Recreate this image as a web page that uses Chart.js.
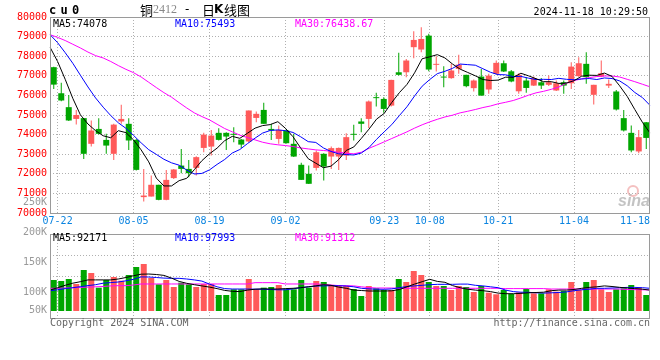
<!DOCTYPE html>
<html>
<head>
<meta charset="utf-8">
<script src="https://cdn.jsdelivr.net/npm/chart.js@4/dist/chart.umd.min.js"></script>
<style>
  html, body { margin: 0; padding: 0; background: #fff; }
  #wrap { position: relative; width: 660px; height: 360px; }
  #wrap canvas { position: absolute; left: 0; top: 0; }
</style>
</head>
<body>
<div id="wrap">
  <canvas id="k_chart" width="660" height="360"></canvas>
  <canvas id="vol_chart" width="660" height="360"></canvas>
</div>
<script>
const dates = [
  "07-19", "07-22", "07-23", "07-24", "07-25", "07-26", "07-29", "07-30", "07-31",
  "08-01", "08-02", "08-05", "08-06", "08-07", "08-08", "08-09", "08-12", "08-13", "08-14",
  "08-15", "08-16", "08-19", "08-20", "08-21", "08-22", "08-23", "08-26", "08-27", "08-28",
  "08-29", "08-30", "09-02", "09-03", "09-04", "09-05", "09-06", "09-09", "09-10", "09-11",
  "09-12", "09-13", "09-18", "09-19", "09-20", "09-23", "09-24", "09-25", "09-26", "09-27",
  "09-30", "10-08", "10-09", "10-10", "10-11", "10-14", "10-15", "10-16", "10-17", "10-18",
  "10-21", "10-22", "10-23", "10-24", "10-25", "10-28", "10-29", "10-30", "10-31", "11-01",
  "11-04", "11-05", "11-06", "11-07", "11-08", "11-11", "11-12", "11-13", "11-14", "11-15",
  "11-18",
];
const shownDates = ["07-22", "08-05", "08-19", "09-02", "09-23", "10-08", "10-21", "11-04", "11-18"];

const open = [
  77440, 76110, 75400, 74800, 74840, 73530, 74290, 73730, 73020, 74670,
  74550, 73730, 70810, 70840, 71440, 70670, 71780, 72420, 72250, 72300,
  73320, 73390, 74090, 74090, 74040, 73750, 73650, 74850, 75260, 74290,
  73780, 74210, 73530, 72460, 72000, 72300, 73020, 72880, 72880, 72930,
  74040, 74670, 74800, 75910, 75820, 75480, 77180, 77180, 78460, 78340,
  79050, 77560, 76960, 76880, 77350, 77050, 76370, 76960, 76300, 77100,
  77640, 77230, 76210, 76760, 76500, 76670, 76540, 76250, 76670, 76620,
  76980, 77610, 76030, 76960, 76500, 76200, 74840, 74090, 73140, 74630,
];
const high = [
  77460, 76640, 76020, 75260, 74850, 74720, 74840, 74040, 74550, 75520,
  74840, 73780, 72250, 71910, 71440, 72200, 72250, 73270, 72710, 72900,
  74090, 74240, 74330, 74120, 74380, 73780, 75230, 75180, 75620, 74550,
  74460, 74290, 74040, 72560, 72420, 73190, 73050, 73390, 73340, 74070,
  74500, 74840, 75740, 76130, 75910, 76800, 78170, 77860, 79270, 79480,
  79140, 78000, 77490, 77610, 78070, 77050, 76810, 77350, 77100, 77780,
  77780, 77300, 77130, 76930, 76960, 76890, 77010, 76760, 76760, 77690,
  77950, 78200, 76540, 77780, 76810, 76280, 75260, 74460, 74240, 74640,
];
const low = [
  76330, 75700, 74700, 74510, 72760, 73390, 74000, 73020, 72710, 74550,
  73220, 72170, 70590, 70840, 70650, 70650, 71740, 72030, 71830, 71910,
  73100, 72930, 73700, 73220, 73610, 73320, 73610, 74630, 74550, 73730,
  73530, 73540, 72860, 71680, 71480, 72170, 71660, 72250, 72200, 72700,
  73700, 74120, 74340, 75430, 75110, 75430, 77010, 76930, 77900, 78200,
  77230, 77220, 76420, 76850, 77100, 76420, 76200, 75980, 76080, 77050,
  77200, 76670, 76080, 76130, 76480, 76330, 76480, 76230, 76080, 76330,
  76950, 76590, 75530, 76930, 76380, 75230, 74160, 73100, 73050, 73270,
];
const close = [
  76550, 75740, 74720, 75000, 73020, 74210, 74040, 73440, 74510, 74800,
  73700, 72200, 70890, 71440, 70670, 71690, 72220, 72250, 72030, 72850,
  74000, 73950, 73730, 73900, 73990, 73490, 75230, 75060, 74550, 74210,
  74240, 73560, 72880, 71690, 71490, 73100, 72370, 73310, 73320, 73870,
  73990, 74550, 75690, 75860, 75310, 76790, 77050, 77780, 78830, 78880,
  77320, 77610, 76910, 77270, 77570, 76470, 76760, 75990, 77010, 77660,
  77220, 76710, 77050, 76380, 76880, 76500, 76670, 76620, 76500, 77470,
  77640, 76930, 76540, 77130, 76590, 75280, 74210, 73190, 73870, 73830,
];

const ma5 = [
  78460, 77730, 76820, 75850, 75010, 74540, 74200, 73940, 73840, 74200,
  74100, 73730, 73220, 72610, 71780, 71380, 71380, 71650, 71770, 72210,
  72670, 73020, 73310, 73690, 73910, 73810, 74070, 74330, 74460, 74510,
  74660, 74320, 73890, 73320, 72770, 72540, 72310, 72390, 72720, 73190,
  73370, 73810, 74280, 74790, 75080, 75640, 76140, 76560, 77150, 77870,
  77970, 78080, 77910, 77600, 77340, 77170, 77000, 76810, 76760, 76780,
  76930, 76920, 77130, 77000, 76850, 76700, 76700, 76610, 76630, 76750,
  76980, 77030, 77020, 77140, 76970, 76490, 75950, 75280, 74630, 74078,
];
const ma10 = [
  79100, 78690, 78180, 77640, 77030, 76430, 75870, 75400, 74970, 74600,
  74320, 73960, 73580, 73230, 72990, 72740, 72560, 72440, 72190, 71990,
  72020, 72200, 72480, 72730, 73060, 73240, 73540, 73820, 74080, 74210,
  74240, 74200, 74110, 73890, 73640, 73600, 73320, 73140, 73020, 72980,
  72960, 73060, 73340, 73760, 74140, 74510, 74970, 75420, 75970, 76470,
  76810, 77110, 77230, 77380, 77600, 77570, 77540, 77360, 77180, 77060,
  77050, 76960, 76970, 76880, 76810, 76820, 76810, 76870, 76820, 76800,
  76840, 76860, 76810, 76890, 76860, 76740, 76490, 76150, 75890, 75493,
];
const ma30 = [
  79100, 78960, 78800, 78610, 78420, 78210, 78030, 77910, 77730, 77520,
  77330, 77160, 76940, 76670, 76400, 76140, 75910, 75630, 75360, 75110,
  74920, 74750, 74530, 74310, 74140, 73970, 73850, 73730, 73610, 73530,
  73480, 73440, 73390, 73320, 73270, 73220, 73190, 73150, 73100, 73050,
  73020, 73100, 73300, 73460, 73630, 73800, 73970, 74140, 74330, 74500,
  74650, 74780, 74900, 74990, 75110, 75190, 75280, 75380, 75460, 75570,
  75650, 75740, 75870, 76010, 76130, 76210, 76310, 76430, 76620, 76760,
  76840, 76910, 76960, 76990, 76990, 76940, 76820, 76700, 76570, 76438.67,
];

const volume = [
  120800, 119200, 122500, 114200, 137500, 132500, 108000, 120800, 125800, 119700,
  129200, 142500, 147500, 124200, 113600, 120800, 109200, 116400, 113600, 109200,
  114200, 114200, 95800, 95800, 105300, 105300, 122500, 105300, 108100, 109200,
  112500, 105300, 105300, 120800, 108100, 119200, 117500, 112500, 112500, 110800,
  105800, 94200, 110800, 107000, 104200, 104200, 122500, 117500, 135800, 129200,
  117500, 110800, 110800, 104200, 110800, 109200, 100800, 110800, 99700, 97000,
  104200, 97500, 100300, 105800, 98600, 98600, 105300, 101400, 102500, 117500,
  104200, 117500, 120800, 105300, 100800, 105300, 107000, 112500, 108100, 95800,
];
const volMa5 = [
  104000, 108000, 112000, 115500, 118000, 121000, 121000, 121000, 121000, 122500,
  125000, 128000, 130500, 130800, 130000, 128500, 124000, 118500, 115300, 113000,
  111000, 109000, 106500, 103500, 102000, 101500, 104000, 105500, 106000, 105800,
  105800, 106500, 107000, 108000, 109500, 111000, 113000, 112000, 109000, 107000,
  104000, 103300, 102500, 102500, 102500, 102800, 105000, 109500, 114000, 118000,
  122000, 118500, 117000, 111500, 108000, 105500, 104000, 103000, 101500, 99000,
  98000, 98000, 98500, 99500, 100000, 100500, 103000, 104000, 104000, 105000,
  107000, 108500, 109500, 111000, 110000, 108600, 107500, 106500, 105500, 104000,
];
const volMa10 = [
  103000, 104500, 106500, 108000, 109700, 111500, 113000, 115500, 116500, 117500,
  119500, 122000, 126000, 125800, 125000, 124000, 123600, 123600, 122500, 121000,
  119000, 114000, 109500, 106500, 105800, 105800, 105800, 105500, 105500, 105000,
  104500, 104500, 106000, 108000, 109500, 110800, 111000, 111400, 111200, 110800,
  109500, 107000, 106000, 105500, 105300, 106000, 108000, 110000, 111000, 112000,
  113000, 113600, 113600, 113600, 114000, 114000, 112000, 111000, 109500, 108000,
  104000, 101500, 100500, 100300, 99500, 99000, 99500, 100000, 101000, 103000,
  104500, 105500, 107000, 107000, 107500, 108000, 108500, 108500, 108000, 107000,
];
const volMa30 = [
  107000, 107000, 107500, 108000, 108500, 109000, 109500, 110000, 111000, 111400,
  111400, 112500, 114200, 114200, 114200, 114200, 114200, 114200, 114200, 114200,
  114200, 114200, 114200, 114200, 114200, 114200, 114200, 116400, 116400, 116400,
  116400, 114200, 114200, 114200, 114200, 114200, 113500, 112500, 111500, 111400,
  111000, 109500, 108100, 107500, 107500, 107500, 107000, 107000, 107000, 107000,
  107000, 107000, 107000, 107000, 107000, 107000, 107000, 107000, 107000, 107000,
  106500, 106500, 106500, 106500, 106500, 106500, 105800, 105800, 105800, 105800,
  105800, 105800, 105800, 105800, 105800, 105800, 105000, 104800, 104500, 104200,
];
const volTicks = [250000, 200000, 150000, 100000, 50000];
const volTickLabels = ["250K", "200K", "150K", "100K", "50K"];
const VOL_BASE = 69200;

const RED = "#ff5a5a";
const GREEN = "#00a600";
const GRID = "#b0b0b0";
const FRAME = "#9a9a9a";
const MONO = '10px "DejaVu Sans Mono"';

Chart.defaults.font.family = '"DejaVu Sans Mono"';
Chart.defaults.font.size = 10;

const candleColors = close.map((c, i) => (c >= open[i] ? RED : GREEN));

// vertical dotted lines only on the labelled dates (none on the last one)
const dateGrid = (ctx) => {
  const d = dates[ctx.index];
  return d && d !== "11-18" && shownDates.includes(d) ? GRID : "transparent";
};

const maLine = (data, color) => ({
  type: "line",
  data: data,
  xAxisID: "x2",
  borderColor: color,
  borderWidth: 1,
  pointRadius: 0,
  tension: 0,
  fill: false,
});

const kDecor = {
  id: "kDecor",
  afterDraw(chart) {
    const { ctx, chartArea: a, scales } = chart;
    ctx.save();
    ctx.setLineDash([]);
    ctx.strokeStyle = FRAME;
    ctx.lineWidth = 1;
    ctx.strokeRect(a.left + 0.5, a.top + 0.5, a.right - a.left - 1, a.bottom - a.top);

    ctx.textBaseline = "middle";

    // date labels under the price panel
    ctx.font = MONO;
    ctx.fillStyle = "#0b84e0";
    ctx.textAlign = "center";
    shownDates.forEach((d) => {
      const w = ctx.measureText(d).width;
      const x = Math.min(scales.x2.getPixelForTick(dates.indexOf(d)), a.right - w / 2);
      ctx.fillText(d, x, a.bottom + 8);
    });

    // symbol, title, time
    ctx.textAlign = "left";
    ctx.fillStyle = "#000";
    ctx.font = 'bold 12px "DejaVu Sans Mono"';
    "cu0".split("").forEach((ch, i) => ctx.fillText(ch, 49 + i * 11.5, 11));

    ctx.font = '13px "Noto Sans CJK SC"';
    ctx.fillText("铜", 140, 10);
    ctx.font = '12px "Liberation Serif"';
    ctx.fillStyle = "#888";
    ctx.fillText("2412", 153, 10);
    ctx.fillStyle = "#000";
    ctx.font = '12px "DejaVu Sans"';
    ctx.fillText("-", 185, 10);
    ctx.font = '13px "Noto Sans CJK SC"';
    ctx.fillText("日", 202, 10);
    ctx.font = 'bold 12px "DejaVu Sans"';
    ctx.fillText("K", 214, 10);
    ctx.font = '13px "Noto Sans CJK SC"';
    ctx.fillText("线图", 224, 10);

    ctx.font = MONO;
    ctx.textAlign = "right";
    ctx.fillText("2024-11-18 10:29:50", 648, 12);

    // MA legend
    ctx.textAlign = "left";
    ctx.fillStyle = "#000";
    ctx.fillText("MA5:74078", 53, 24);
    ctx.fillStyle = "#0000ff";
    ctx.fillText("MA10:75493", 175, 24);
    ctx.fillStyle = "#ff00ff";
    ctx.fillText("MA30:76438.67", 295, 24);

    // faint sina mark
    ctx.strokeStyle = "rgba(235,140,140,0.55)";
    ctx.lineWidth = 2;
    ctx.beginPath();
    ctx.arc(633, 191, 5, 0, Math.PI * 2);
    ctx.stroke();
    ctx.font = 'italic bold 16px "Liberation Sans"';
    ctx.fillStyle = "rgba(185,185,185,0.85)";
    ctx.textAlign = "right";
    ctx.fillText("sina", 650, 202);
    ctx.restore();
  },
};

const volDecor = {
  id: "volDecor",
  beforeDatasetsDraw(chart) {
    const { ctx, chartArea: a } = chart;
    ctx.save();
    ctx.setLineDash([1, 2]);
    ctx.strokeStyle = GRID;
    ctx.lineWidth = 1;
    for (let k = 1; k < 4; k++) {
      const y = Math.round(a.top + ((a.bottom - a.top) * k) / 4) + 0.5;
      ctx.beginPath();
      ctx.moveTo(a.left, y);
      ctx.lineTo(a.right, y);
      ctx.stroke();
    }
    ctx.restore();
  },
  afterDraw(chart) {
    const { ctx, chartArea: a, scales } = chart;
    ctx.save();
    ctx.strokeStyle = FRAME;
    ctx.lineWidth = 1;
    ctx.strokeRect(a.left + 0.5, a.top + 0.5, a.right - a.left - 1, a.bottom - a.top);

    ctx.font = MONO;
    ctx.textBaseline = "middle";
    ctx.textAlign = "right";
    ctx.fillStyle = "#999";
    volTicks.forEach((v, i) => {
      const y = Math.min(scales.y.getPixelForValue(v), a.bottom - 8);
      ctx.fillText(volTickLabels[i], 47, y);
    });

    ctx.textAlign = "left";
    ctx.fillStyle = "#000";
    ctx.fillText("MA5:92171", 53, a.top + 4.5);
    ctx.fillStyle = "#0000ff";
    ctx.fillText("MA10:97993", 175, a.top + 4.5);
    ctx.fillStyle = "#ff00ff";
    ctx.fillText("MA30:91312", 295, a.top + 4.5);

    ctx.fillStyle = "#666";
    ctx.fillText("Copyright 2024 SINA.COM", 50, a.bottom + 5);
    ctx.textAlign = "right";
    ctx.fillText("http://finance.sina.com.cn", 650, a.bottom + 5);
    ctx.restore();
  },
};

const kChart = new Chart(document.getElementById("k_chart"), {
  type: "bar",
  data: {
    labels: dates,
    datasets: [
      maLine(ma5, "#000000"),
      maLine(ma10, "#0000ff"),
      maLine(ma30, "#ff00ff"),
      {
        label: "wick",
        data: low.map((l, i) => [l, high[i]]),
        backgroundColor: candleColors,
        barThickness: 1,
        grouped: false,
        inflateAmount: 0,
        xAxisID: "x",
      },
      {
        label: "body",
        data: open.map((o, i) => [o, close[i]]),
        backgroundColor: candleColors,
        barThickness: 6,
        grouped: false,
        inflateAmount: 0,
        xAxisID: "x",
      },
    ],
  },
  options: {
    responsive: false,
    animation: false,
    events: [],
    layout: { padding: { top: 17, right: 10, bottom: 132, left: 0 } },
    plugins: { legend: { display: false }, tooltip: { enabled: false } },
    scales: {
      x: { display: false, offset: true },
      x2: {
        type: "category",
        position: "bottom",
        offset: false,
        grid: { offset: false, color: dateGrid, drawTicks: false },
        border: { display: false, dash: [1, 2] },
        ticks: { display: false, autoSkip: false },
        afterFit: (s) => { s.height = 15; },
      },
      y: {
        min: 70000,
        max: 80000,
        grid: {
          color: (c) => (c.tick && c.tick.value > 70000 && c.tick.value < 80000 ? GRID : "transparent"),
          drawTicks: false,
        },
        border: { display: false, dash: [1, 2] },
        ticks: {
          stepSize: 1000,
          color: "#ff0000",
          padding: 3,
          font: { family: '"DejaVu Sans Mono"', size: 10 },
          callback: (value) => String(value),
        },
        afterFit: (s) => { s.width = 50; },
      },
    },
  },
  plugins: [kDecor],
});

const volChart = new Chart(document.getElementById("vol_chart"), {
  type: "bar",
  data: {
    labels: dates,
    datasets: [
      maLine(volMa5, "#000000"),
      maLine(volMa10, "#0000ff"),
      maLine(volMa30, "#ff00ff"),
      {
        label: "volume",
        data: volume.map((v) => [VOL_BASE, v]),
        backgroundColor: candleColors,
        barThickness: 6,
        grouped: false,
        inflateAmount: 0,
        xAxisID: "x",
      },
    ],
  },
  options: {
    responsive: false,
    animation: false,
    events: [],
    layout: { padding: { top: 234, right: 10, bottom: 42, left: 0 } },
    plugins: { legend: { display: false }, tooltip: { enabled: false } },
    scales: {
      x: { display: false, offset: true },
      x2: {
        type: "category",
        position: "bottom",
        offset: false,
        grid: { offset: false, color: dateGrid, drawTicks: false },
        border: { display: false, dash: [1, 2] },
        ticks: { display: false, autoSkip: false },
        afterFit: (s) => { s.height = 0; },
      },
      y: {
        min: 57500,
        max: 197500,
        grid: { display: false },
        border: { display: false },
        ticks: { display: false },
        afterFit: (s) => { s.width = 50; },
      },
    },
  },
  plugins: [volDecor],
});
</script>
</body>
</html>
